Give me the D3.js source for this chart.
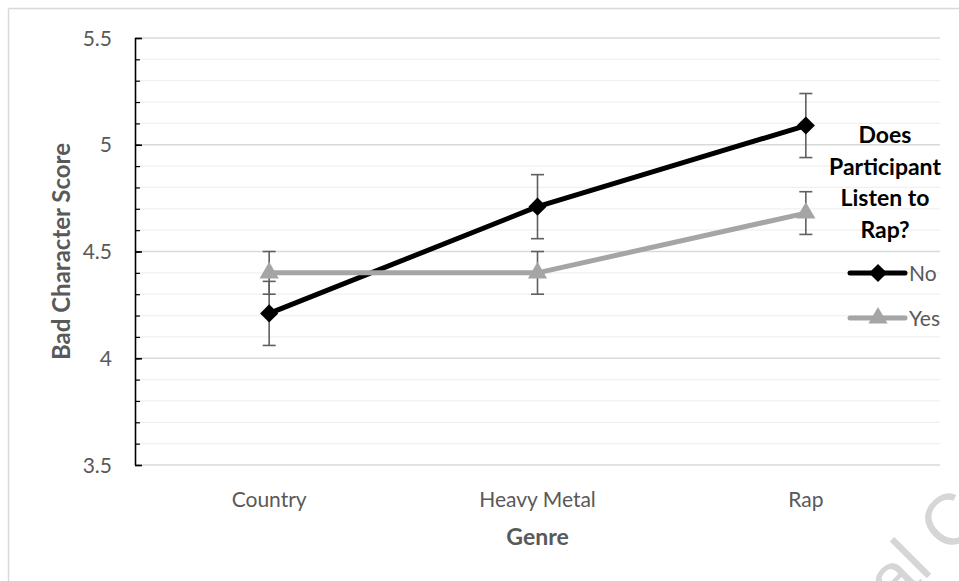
<!DOCTYPE html>
<html>
<head>
<meta charset="utf-8">
<script src="https://cdn.jsdelivr.net/npm/d3@7/dist/d3.min.js"></script>
<style>
  html, body { margin: 0; padding: 0; background: #fff; }
  svg { display: block; }
</style>
</head>
<body>
<svg id="chart" width="959" height="581"></svg>
<script>
// ---- data ----
const categories = ["Country", "Heavy Metal", "Rap"];
const noMeans = [4.21, 4.71, 5.09];
const noErr = [0.15, 0.15, 0.15];
const yesMeans = [4.40, 4.40, 4.68];
const yesErr = [0.10, 0.10, 0.10];
const yMajorTicks = [3.5, 4, 4.5, 5, 5.5];
const yMinorTicks = d3.range(35, 56, 1).map(v => v / 10);
const seriesNames = ["No", "Yes"];
const legendTitleLines = ["Does", "Participant", "Listen to", "Rap?"];
const xTitle = "Genre";
const yTitle = "Bad Character Score";
const watermark = "al C";

// ---- layout ----
const svg = d3.select("#chart");
const W = 959, H = 581;
const plot = { left: 135, right: 940, top: 38, bottom: 465 };
const font = "Lato, 'Noto Sans', sans-serif";

const x = d3.scaleBand().domain(categories).range([plot.left, plot.right]).padding(0);
const cx = c => x(c) + x.bandwidth() / 2;
const y = d3.scaleLinear().domain([3.5, 5.5]).range([plot.bottom, plot.top]);

// outer frame (top and left edges visible)
svg.append("line").attr("x1", 8.5).attr("x2", W).attr("y1", 8.5).attr("y2", 8.5)
  .attr("stroke", "#d9d9d9").attr("stroke-width", 1.5);
svg.append("line").attr("x1", 8.5).attr("x2", 8.5).attr("y1", 8.5).attr("y2", H)
  .attr("stroke", "#d9d9d9").attr("stroke-width", 1.5);

// watermark (partly outside the page, as in the reference)
svg.append("text")
  .attr("transform", "translate(895,610) rotate(-45)")
  .attr("font-family", "'Liberation Sans', Arial, sans-serif")
  .attr("font-size", 72)
  .attr("fill", "#d6d6d6")
  .text(watermark);

// minor gridlines
svg.append("g").selectAll("line")
  .data(yMinorTicks.filter(v => !yMajorTicks.some(m => Math.abs(m - v) < 1e-9)))
  .join("line")
  .attr("x1", plot.left).attr("x2", plot.right)
  .attr("y1", d => y(d)).attr("y2", d => y(d))
  .attr("stroke", "#f0f0f0").attr("stroke-width", 1.2);

// major gridlines
svg.append("g").selectAll("line")
  .data(yMajorTicks)
  .join("line")
  .attr("x1", plot.left).attr("x2", plot.right)
  .attr("y1", d => y(d)).attr("y2", d => y(d))
  .attr("stroke", "#d9d9d9").attr("stroke-width", 1.5);

// y axis with inward ticks
const yAxisMajor = d3.axisRight(y).tickValues(yMajorTicks).tickSize(7).tickFormat("");
const gy = svg.append("g").attr("transform", `translate(${plot.left},0)`).call(yAxisMajor);
gy.select(".domain").attr("stroke", "#000").attr("stroke-width", 1.6).attr("d", `M0.5,${plot.top}V${plot.bottom}`);
gy.selectAll(".tick line").attr("stroke", "#000").attr("stroke-width", 1.6);
const yAxisMinor = d3.axisRight(y).tickValues(yMinorTicks).tickSize(5).tickFormat("");
const gym = svg.append("g").attr("transform", `translate(${plot.left},0)`).call(yAxisMinor);
gym.select(".domain").remove();
gym.selectAll(".tick line").attr("stroke", "#000").attr("stroke-width", 1.2);

// y tick labels
svg.append("g").selectAll("text")
  .data(yMajorTicks)
  .join("text")
  .attr("x", 112).attr("y", d => y(d))
  .attr("dy", "0.36em")
  .attr("text-anchor", "end")
  .attr("font-family", font).attr("font-size", 21)
  .attr("fill", "#595959")
  .text(d => d3.format("")(d));

// x axis labels
const xAxis = d3.axisBottom(x).tickSize(0).tickPadding(0);
const gx = svg.append("g").attr("transform", `translate(0,${plot.bottom})`).call(xAxis);
gx.select(".domain").remove();
gx.selectAll(".tick text")
  .attr("y", 42).attr("dy", 0)
  .attr("font-family", font).attr("font-size", 21)
  .attr("fill", "#595959");

// axis titles
svg.append("text")
  .attr("x", (plot.left + plot.right) / 2).attr("y", 545)
  .attr("text-anchor", "middle")
  .attr("font-family", font).attr("font-size", 23).attr("font-weight", "bold")
  .attr("fill", "#595959")
  .text(xTitle);
svg.append("text")
  .attr("transform", `translate(70,${(plot.top + plot.bottom) / 2}) rotate(-90)`)
  .attr("text-anchor", "middle")
  .attr("font-family", font).attr("font-size", 24).attr("font-weight", "bold")
  .attr("fill", "#595959")
  .text(yTitle);

// series
const series = [
  { name: seriesNames[0], means: noMeans, err: noErr, color: "#000000", symbol: d3.symbolSquare, symSize: 165, symRot: 45 },
  { name: seriesNames[1], means: yesMeans, err: yesErr, color: "#a5a5a5", symbol: d3.symbolTriangle, symSize: 160, symRot: 0 }
];

const errColor = "#5f5f5f";
const capHalf = 6.5;
const line = d3.line().x(d => cx(d.cat)).y(d => y(d.v));

series.forEach(s => {
  const pts = categories.map((c, i) => ({ cat: c, v: s.means[i], e: s.err[i] }));
  const g = svg.append("g");
  // error bars
  const eb = g.append("g").selectAll("g").data(pts).join("g");
  eb.append("line")
    .attr("x1", d => cx(d.cat)).attr("x2", d => cx(d.cat))
    .attr("y1", d => y(d.v - d.e)).attr("y2", d => y(d.v + d.e))
    .attr("stroke", errColor).attr("stroke-width", 1.6);
  eb.append("line")
    .attr("x1", d => cx(d.cat) - capHalf).attr("x2", d => cx(d.cat) + capHalf)
    .attr("y1", d => y(d.v + d.e)).attr("y2", d => y(d.v + d.e))
    .attr("stroke", errColor).attr("stroke-width", 1.6);
  eb.append("line")
    .attr("x1", d => cx(d.cat) - capHalf).attr("x2", d => cx(d.cat) + capHalf)
    .attr("y1", d => y(d.v - d.e)).attr("y2", d => y(d.v - d.e))
    .attr("stroke", errColor).attr("stroke-width", 1.6);
  // line
  g.append("path").datum(pts)
    .attr("d", line)
    .attr("fill", "none").attr("stroke", s.color).attr("stroke-width", 5)
    .attr("stroke-linejoin", "round");
  // markers
  g.append("g").selectAll("path").data(pts).join("path")
    .attr("transform", d => `translate(${cx(d.cat)},${y(d.v)}) rotate(${s.symRot})`)
    .attr("d", d3.symbol().type(s.symbol).size(s.symSize))
    .attr("fill", s.color);
});

// legend title
const lgX = 885;
svg.append("g").selectAll("text")
  .data(legendTitleLines)
  .join("text")
  .attr("x", lgX).attr("y", (d, i) => 143 + i * 31.7)
  .attr("text-anchor", "middle")
  .attr("font-family", font).attr("font-size", 23).attr("font-weight", "bold")
  .attr("fill", "#000")
  .text(d => d);

// legend entries
const legendY = [273, 318];
series.forEach((s, i) => {
  const gy2 = legendY[i];
  svg.append("line")
    .attr("x1", 850).attr("x2", 905).attr("y1", gy2).attr("y2", gy2)
    .attr("stroke", s.color).attr("stroke-width", 5).attr("stroke-linecap", "round");
  svg.append("path")
    .attr("transform", `translate(878,${gy2}) rotate(${s.symRot})`)
    .attr("d", d3.symbol().type(s.symbol).size(s.symSize))
    .attr("fill", s.color);
  svg.append("text")
    .attr("x", 909).attr("y", gy2).attr("dy", "0.36em")
    .attr("font-family", font).attr("font-size", 21)
    .attr("fill", "#595959")
    .text(s.name);
});
</script>
</body>
</html>
